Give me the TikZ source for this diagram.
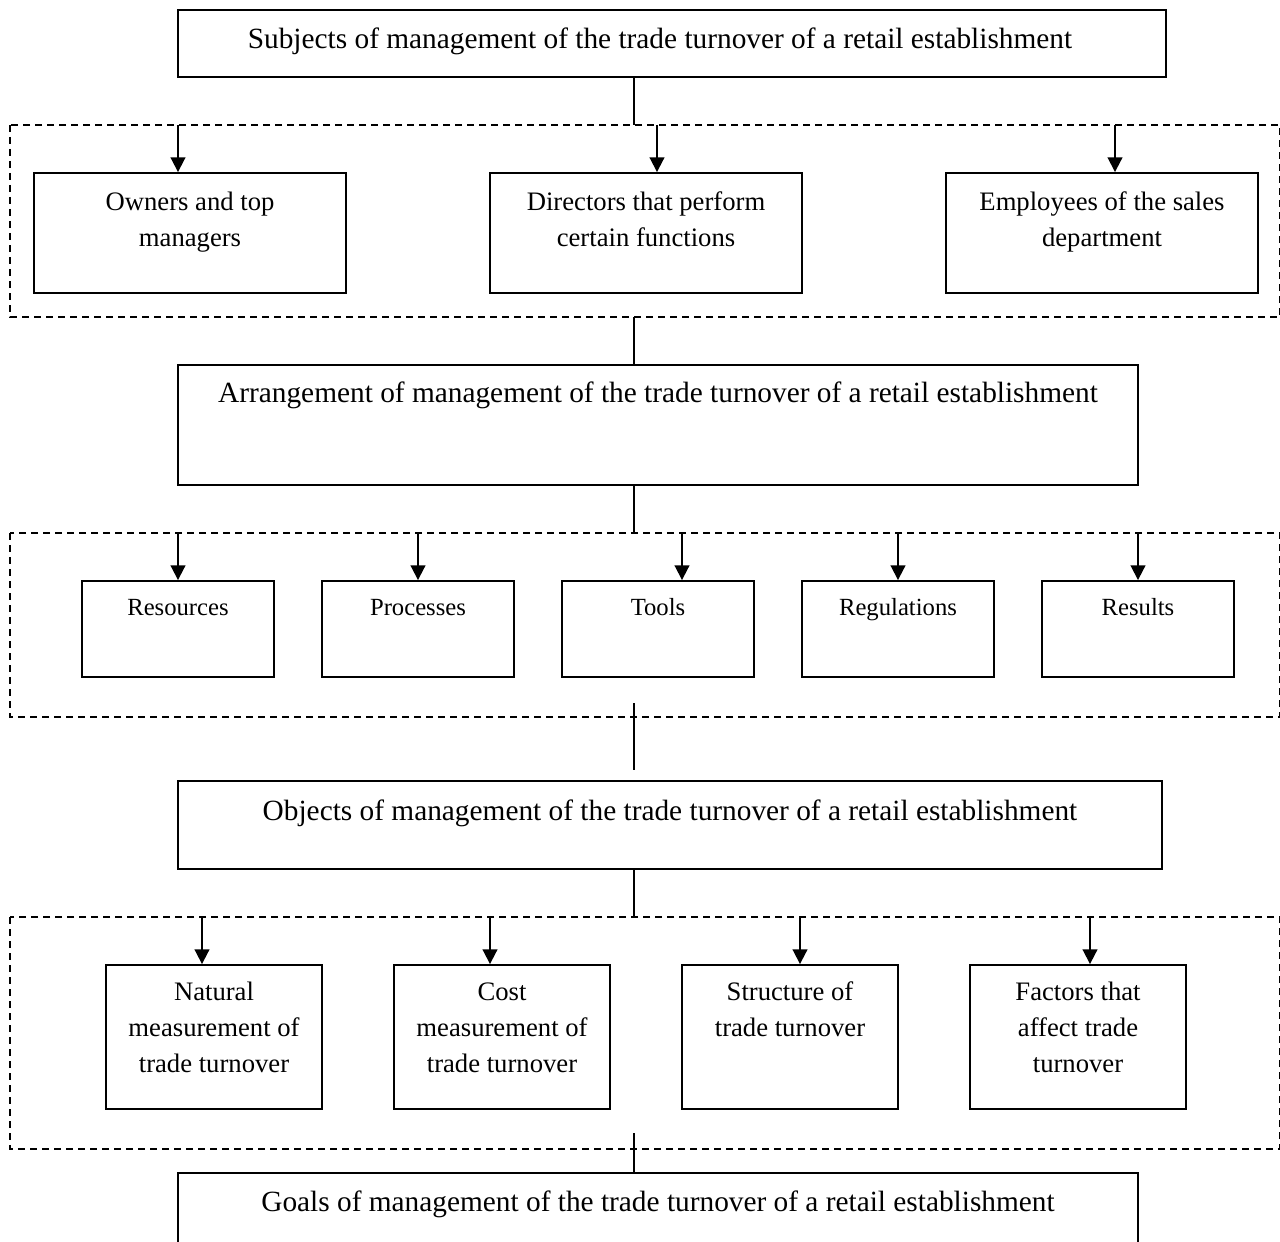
\documentclass[tikz,border=0pt]{standalone}
\usepackage{fontspec}
\setmainfont{Liberation Serif}
\usetikzlibrary{arrows.meta}
\begin{document}
\begin{tikzpicture}[x=0.75pt,y=-0.75pt,
  box/.style={draw,line width=1.4pt,rectangle,inner sep=0pt,
    minimum width=#1},
  box/.default=0pt,
  group/.style={draw,line width=1.1pt,dash pattern=on 5.5pt off 3.5pt},
  link/.style={line width=1.4pt},
  arr/.style={line width=1.4pt,-{Triangle[length=11pt,width=11pt]}},
  head/.style={align=center,inner sep=0pt,font=\fontsize{22}{27}\selectfont},
  big/.style={align=center,inner sep=0pt,font=\fontsize{20}{27}\selectfont},
  small/.style={align=center,inner sep=0pt,font=\fontsize{18.5}{22}\selectfont}]
\useasboundingbox (0,0) rectangle (1280,1241);

% ---- subjects ----
\node[box=988*0.75pt,minimum height=67*0.75pt] (subj) at (672,43.5) {};
\node[head] (subjT) at (660,41) {\strut Subjects of management of the trade turnover of a retail establishment};

\draw[group] (10,125) rectangle (1280,317);
\coordinate (g1t) at (634,125);
\coordinate (g1b) at (634,317);
\node[box=312*0.75pt,minimum height=120*0.75pt] (own) at (190,233) {};
\node[box=312*0.75pt,minimum height=120*0.75pt] (dir) at (646,233) {};
\node[box=312*0.75pt,minimum height=120*0.75pt] (emp) at (1102,233) {};
\node[big] (ownT) at (190,221) {\strut Owners and top\\\strut managers};
\node[big] (dirT) at (646,221) {\strut Directors that perform\\\strut certain functions};
\node[big] (empT) at (1102,221) {\strut Employees of the sales\\\strut department};
\coordinate (a11) at (178,125);
\coordinate (a12) at (657,125);
\coordinate (a13) at (1115,125);
\draw[link] (subj.south -| g1t) -- (g1t);
\draw[arr] (a11) -- (a11 |- own.north);
\draw[arr] (a12) -- (a12 |- dir.north);
\draw[arr] (a13) -- (a13 |- emp.north);

% ---- arrangement ----
\node[box=960*0.75pt,minimum height=120*0.75pt] (arrg) at (658,425) {};
\node[head] (arrgT) at (658,395) {\strut Arrangement of management of the trade turnover of a retail establishment};
\draw[link] (g1b) -- (g1b |- arrg.north);

\draw[group] (10,533) rectangle (1280,717);
\coordinate (g2t) at (634,533);
\draw[link] (arrg.south -| g2t) -- (g2t);
\foreach \n/\cx/\ax/\t in {res/178/178/Resources,pro/418/418/Processes,
    too/658/682/Tools,reg/898/898/Regulations,rsl/1138/1138/Results}{
  \node[box=192*0.75pt,minimum height=96*0.75pt] (\n) at (\cx,629) {};
  \node[small] (\n T) at (\cx,610) {\strut\t};
  \coordinate (\n A) at (\ax,533);
  \draw[arr] (\n A) -- (\n A |- \n.north);
}

% ---- objects ----
\node[box=984*0.75pt,minimum height=88*0.75pt] (obj) at (670,825) {};
\node[head] (objT) at (670,813) {\strut Objects of management of the trade turnover of a retail establishment};
\coordinate (g2a) at (634,703);
\coordinate (g2c) at (634,770);
\draw[link] (g2a) -- (g2c);

\draw[group] (10,917) rectangle (1280,1149);
\coordinate (g3t) at (634,917);
\draw[link] (obj.south -| g3t) -- (g3t);
\node[box=216*0.75pt,minimum height=144*0.75pt] (nat) at (214,1037) {};
\node[box=216*0.75pt,minimum height=144*0.75pt] (cst) at (502,1037) {};
\node[box=216*0.75pt,minimum height=144*0.75pt] (str) at (790,1037) {};
\node[box=216*0.75pt,minimum height=144*0.75pt] (fac) at (1078,1037) {};
\node[big] (natT) at (214,1029) {\strut Natural\\\strut measurement of\\\strut trade turnover};
\node[big] (cstT) at (502,1029) {\strut Cost\\\strut measurement of\\\strut trade turnover};
\node[big] (strT) at (790,1011.5) {\strut Structure of\\\strut trade turnover};
\node[big] (facT) at (1078,1029) {\strut Factors that\\\strut affect trade\\\strut turnover};
\coordinate (a31) at (202,917);
\coordinate (a32) at (490,917);
\coordinate (a33) at (800,917);
\coordinate (a34) at (1090,917);
\draw[arr] (a31) -- (a31 |- nat.north);
\draw[arr] (a32) -- (a32 |- cst.north);
\draw[arr] (a33) -- (a33 |- str.north);
\draw[arr] (a34) -- (a34 |- fac.north);

% ---- goals ----
\node[box=960*0.75pt,minimum height=140*0.75pt] (goal) at (658,1243) {};
\node[head] (goalT) at (658,1204) {\strut Goals of management of the trade turnover of a retail establishment};
\coordinate (g3b) at (634,1133);
\draw[link] (g3b) -- (g3b |- goal.north);
\end{tikzpicture}
\end{document}
